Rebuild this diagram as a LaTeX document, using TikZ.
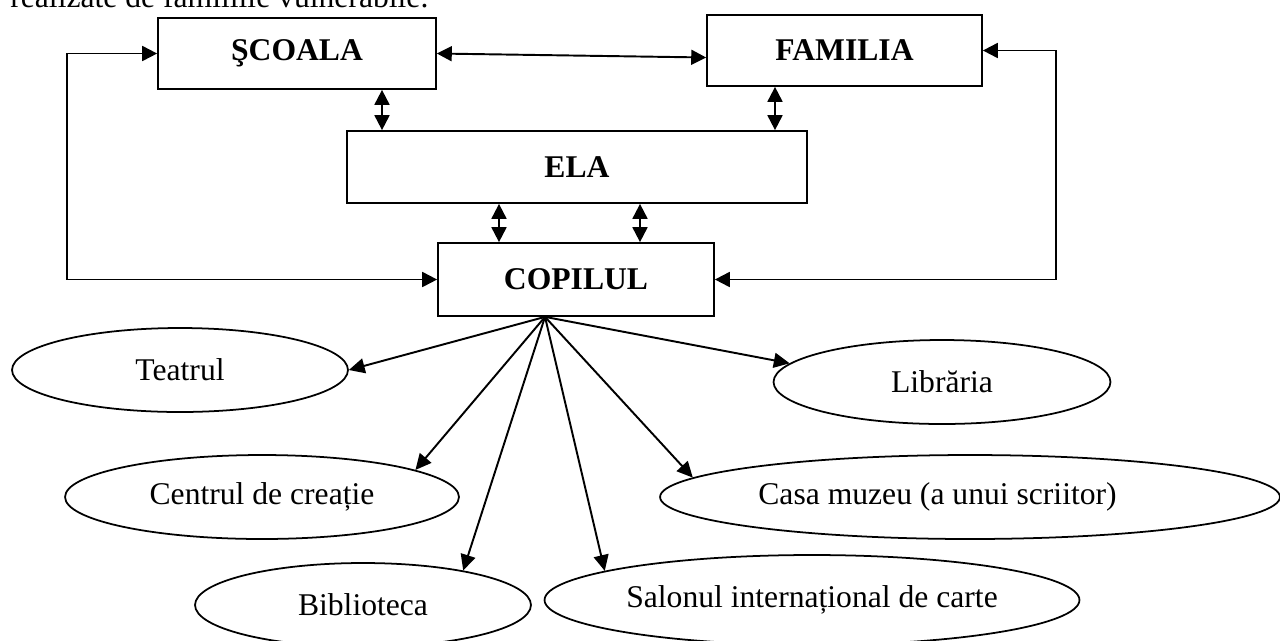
\documentclass[tikz,border=0pt]{standalone}
\usepackage{fontspec}
\setmainfont{Liberation Serif}
\usetikzlibrary{shapes,arrows.meta,positioning,calc}

\begin{document}
\begin{tikzpicture}[
    x=0.02cm, y=-0.02cm,
    every node/.style={font=\fontsize{18}{21}\selectfont},
    box/.style={draw, line width=1pt, rectangle, inner sep=0pt, font=\fontsize{18}{21}\selectfont\bfseries},
    place/.style={draw, line width=1pt, ellipse, inner sep=0pt, minimum height=1.68cm},
    link/.style={line width=1.1pt, -{Triangle[length=9pt,width=8.5pt]}},
    both/.style={line width=1.1pt, {Triangle[length=8.5pt,width=8.5pt]}-{Triangle[length=8.5pt,width=8.5pt]}}
]
    \useasboundingbox (0,0) rectangle (1280,640);

    \node[anchor=base west, inner sep=0pt] (intro) at (10,7) {realizate de familiile vulnerabile.};

    \node[box, minimum width=5.56cm, minimum height=1.42cm] (scoala) at (297,53.5) {ŞCOALA};
    \node[box, minimum width=5.5cm, minimum height=1.42cm] (familia) at (844.5,50.5) {FAMILIA};
    \node[box, minimum width=9.2cm, minimum height=1.44cm] (ela) at (577,167) {ELA};
    \node[box, minimum width=5.52cm, minimum height=1.46cm] (copilul) at (576,279.5) {COPILUL};

    \node[place, minimum width=6.72cm] (teatrul) at (180,370) {Teatrul};
    \node[place, minimum width=6.74cm] (libraria) at (942,382) {Librăria};
    \node[place, minimum width=7.88cm] (centrul) at (262,497) {Centrul de creație};
    \node[place, minimum width=12.4cm] (casa) at (970,497) {Casa muzeu (a unui scriitor)\hspace*{1.3cm}};
    \node[place, minimum width=6.72cm] (biblioteca) at (363,605) {Biblioteca};
    \node[place, minimum width=10.7cm, minimum height=1.8cm] (salonul) at (812,600) {Salonul internațional de carte};

    \coordinate (lx) at (67,0);
    \coordinate (rx) at (1056,0);
    \coordinate (v1) at (382,0);
    \coordinate (v2) at (775,0);
    \coordinate (v3) at (499,0);
    \coordinate (v4) at (640,0);
    \coordinate (hub) at ([xshift=-0.62cm]copilul.south);

    \draw[both] (scoala.west) -- (scoala.west -| lx) |- (copilul.west);
    \draw[both] (familia.east) -- (familia.east -| rx) |- (copilul.east);
    \draw[both] (scoala.east) -- ([yshift=-0.14cm]familia.west);
    \draw[both] (v1 |- scoala.south) -- (v1 |- ela.north);
    \draw[both] (v2 |- familia.south) -- (v2 |- ela.north);
    \draw[both] (v3 |- ela.south) -- (v3 |- copilul.north);
    \draw[both] (v4 |- ela.south) -- (v4 |- copilul.north);

    \draw[link] (hub) -- (teatrul.east);
    \draw[link] (hub) -- (libraria.173);
    \draw[link] (hub) -- (centrul.10);
    \draw[link] (hub) -- (biblioteca.19);
    \draw[link] (hub) -- (salonul.172);
    \draw[link] (hub) -- (casa.176);
\end{tikzpicture}
\end{document}
